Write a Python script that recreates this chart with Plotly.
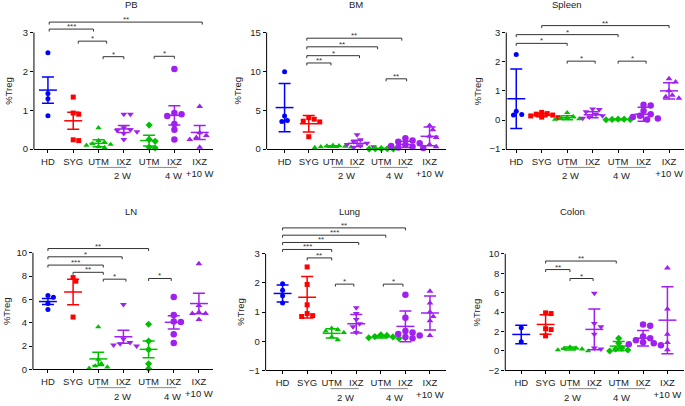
import plotly.graph_objects as go

W, H = 685, 406
FONT = "Liberation Sans, Arial, sans-serif"

categories = ["HD", "SYG", "UTM", "IXZ", "UTM", "IXZ", "IXZ<br>+10 W"]
colors = ["#0000ff", "#ff0000", "#00c000", "#a020f0", "#00c000", "#a020f0", "#a020f0"]
symbols = ["circle", "square", "triangle-up", "triangle-down", "diamond", "circle", "triangle-up"]
sizes = [5, 5, 5.5, 6, 5.5, 6.5, 6]

# --- PB
pb_values = [[2.48, 1.43, 1.30, 0.86],
             [1.34, 0.93, 0.90, 0.24, 0.22],
             [0.55, 0.22, 0.18, 0.14, 0.10, 0.06, 0.04, 0.12],
             [0.90, 0.90, 0.55, 0.50, 0.48, 0.45, 0.40, 0.25],
             [0.62, 0.25, 0.20, 0.05, 0.03],
             [2.06, 0.93, 0.90, 0.85, 0.65, 0.50, 0.25],
             [1.10, 0.42, 0.35, 0.30, 0.25, 0.05]]
pb_mean = [1.52, 0.73, 0.15, 0.52, 0.22, 0.87, 0.43]
pb_err = [0.34, 0.22, 0.09, 0.09, 0.14, 0.25, 0.18]
pb_sig = [(0.05, 6.1, 3.27, "**"), (0.05, 1.8, 3.09, "***"), (1.2, 2.32, 2.78, "*"),
          (2.18, 3.0, 2.38, "*"), (4.2, 5.0, 2.39, "*")]

# --- BM
bm_values = [[9.95, 4.25, 3.55, 3.70],
             [4.05, 3.85, 3.60, 3.50, 1.60],
             [0.50, 0.45, 0.40, 0.35, 0.30, 0.25, 0.20],
             [1.85, 1.20, 0.95, 0.75, 0.60, 0.45, 0.30, 0.20],
             [0.06, 0.05, 0.04, 0.05, 0.03],
             [1.40, 1.10, 0.95, 0.75, 0.55, 0.40, 0.30, 0.20, 0.15],
             [3.05, 2.50, 1.65, 1.50, 0.60, 0.30]]
bm_mean = [5.35, 3.27, 0.35, 0.75, 0.05, 0.60, 1.65]
bm_err = [3.1, 1.05, 0.10, 0.40, 0.02, 0.40, 1.20]
bm_sig = [(0.92, 4.85, 14.28, "**"), (0.92, 3.85, 13.17, "**"), (0.92, 3.1, 12.03, "*"),
          (0.92, 1.92, 11.09, "**"), (4.2, 5.05, 9.05, "**")]

# --- Spleen
sp_values = [[2.25, 0.30, 0.19, 0.17],
             [0.26, 0.22, 0.20, 0.17, 0.14, 0.10, 0.08],
             [0.25, 0.12, 0.08, 0.06, 0.04, 0.02],
             [0.38, 0.36, 0.28, 0.20, 0.15, 0.10, 0.06],
             [0.03, 0.02, 0.01, 0.02, 0.03],
             [0.52, 0.50, 0.32, 0.20, 0.15, 0.10, 0.05, 0.02],
             [1.42, 1.30, 1.00, 0.85, 0.80, 0.75]]
sp_mean = [0.73, 0.17, 0.08, 0.18, 0.02, 0.20, 1.00]
sp_err = [1.02, 0.06, 0.07, 0.10, 0.01, 0.24, 0.28]
sp_sig = [(1.0, 6.0, 3.24, "**"), (0.0, 4.0, 2.93, "*"), (0.0, 2.0, 2.63, "*"),
          (2.0, 3.1, 2.02, "*"), (4.0, 5.1, 2.02, "*")]

# --- LN
ln_values = [[6.20, 6.35, 5.65, 5.14],
             [7.88, 7.57, 4.49],
             [3.64, 0.85, 0.50, 0.30, 0.20, 0.10],
             [5.56, 2.60, 2.30, 2.10, 2.00, 2.20],
             [3.87, 2.43, 1.70, 0.48, 0.06],
             [6.21, 4.66, 4.07, 4.10, 3.02, 2.26],
             [9.07, 5.48, 4.90, 4.80, 4.80, 4.29]]
ln_mean = [5.82, 6.64, 0.90, 2.80, 1.72, 4.04, 5.65]
ln_err = [0.26, 1.10, 0.57, 0.55, 0.72, 0.57, 0.88]
ln_sig = [(0, 4, 10.37, "**"), (0, 2.95, 9.66, "*"), (0, 2.2, 8.95, "***"),
          (1, 2.2, 8.33, "**"), (2.2, 3.1, 7.74, "*"), (4, 4.9, 7.8, "*")]

# --- Lung
lu_values = [[1.97, 1.75, 1.56, 1.31],
             [2.55, 1.95, 1.25, 0.95, 0.88, 0.85],
             [0.45, 0.40, 0.35, 0.30, 0.15, 0.05],
             [1.15, 0.95, 0.75, 0.60, 0.50, 0.30],
             [0.22, 0.20, 0.16, 0.15, 0.12, 0.10],
             [1.60, 0.81, 0.35, 0.30, 0.25, 0.20, 0.15, 0.10],
             [1.72, 1.31, 1.00, 0.85, 0.70, 0.20]]
lu_mean = [1.64, 1.51, 0.27, 0.60, 0.15, 0.51, 0.97]
lu_err = [0.29, 0.71, 0.16, 0.32, 0.04, 0.53, 0.58]
lu_sig = [(0, 5, 3.89, "**"), (0, 4.2, 3.64, "***"), (0, 3.1, 3.39, "**"), (0, 2, 3.15, "***"),
          (1, 2, 2.86, "**"), (2.15, 2.9, 1.96, "*"), (4.1, 4.9, 1.96, "*")]

# --- Colon
co_values = [[2.40, 0.94],
             [3.92, 3.85, 2.29, 2.20, 1.55],
             [0.40, 0.30, 0.25, 0.20, 0.10, 0.00],
             [5.94, 2.83, 2.50, 1.72, 0.30, 0.20],
             [1.31, 0.80, 0.30, 0.20, 0.10, 0.00],
             [2.73, 2.60, 1.50, 1.30, 1.10, 0.90, 0.80, 0.70, 0.60],
             [8.55, 4.32, 1.72, 0.87, 0.13]]
co_mean = [1.70, 2.73, 0.25, 2.22, 0.50, 1.31, 3.17]
co_err = [0.95, 1.00, 0.15, 2.10, 0.48, 0.80, 3.45]
co_sig = [(1, 3.9, 9.26, "**"), (1, 2, 8.38, "**"), (2, 2.95, 7.46, "*")]

panels = [
    dict(name="PB", vals=pb_values, mean=pb_mean, err=pb_err, sig=pb_sig,
         xl=34, xr=213, c0=48, sp=25.33, yb=151, yt=33, ymin=0, ymax=3, dt=1, top=12,
         tx=123, ty=5, ytx=9),
    dict(name="BM", vals=bm_values, mean=bm_mean, err=bm_err, sig=bm_sig,
         xl=267, xr=447, c0=285, sp=24.2, yb=151, yt=33, ymin=0, ymax=15, dt=5, top=12,
         tx=357, ty=5, ytx=238),
    dict(name="Spleen", vals=sp_values, mean=sp_mean, err=sp_err, sig=sp_sig,
         xl=507, xr=685, c0=517, sp=25.5, yb=151, yt=33, ymin=-1, ymax=3, dt=1, top=12,
         tx=585, ty=5, ytx=479),
    dict(name="LN", vals=ln_values, mean=ln_mean, err=ln_err, sig=ln_sig,
         xl=33, xr=213, c0=48, sp=25.2, yb=374, yt=256, ymin=0, ymax=10, dt=2, top=222,
         tx=123, ty=214, ytx=6),
    dict(name="Lung", vals=lu_values, mean=lu_mean, err=lu_err, sig=lu_sig,
         xl=266, xr=447, c0=283, sp=24.6, yb=375, yt=257, ymin=-1, ymax=3, dt=1, top=222,
         tx=350, ty=214, ytx=240),
    dict(name="Colon", vals=co_values, mean=co_mean, err=co_err, sig=co_sig,
         xl=506, xr=685, c0=522, sp=24.4, yb=375, yt=257, ymin=-2, ymax=10, dt=2, top=222,
         tx=588, ty=214, ytx=477),
]


def swarm(vals, scale, sp, diam):
    # simple beeswarm: spread close points sideways (pixel space)
    order = sorted(range(len(vals)), key=lambda i: -vals[i])
    placed, offs = [], [0.0] * len(vals)
    step = diam * 0.55
    for i in order:
        py = vals[i] * scale
        k = 0
        while True:
            cands = [0.0] if k == 0 else [k * step, -k * step]
            hit = None
            for c in cands:
                if all((c - a) ** 2 + (py - b) ** 2 >= (diam * 0.9) ** 2 for a, b in placed):
                    hit = c
                    break
            if hit is not None:
                break
            k += 1
        placed.append((hit, py))
        offs[i] = hit / sp
    return offs


fig = go.Figure()
shapes, annots = [], []

for k, p in enumerate(panels, start=1):
    s = "" if k == 1 else str(k)
    scale = (p["yb"] - p["yt"]) / (p["ymax"] - p["ymin"])
    ytop = p["ymin"] + (p["yb"] - p["top"]) / scale
    fig.update_layout(**{
        "xaxis" + s: dict(domain=[p["xl"] / W, p["xr"] / W],
                          range=[(p["xl"] - p["c0"]) / p["sp"], (p["xr"] - p["c0"]) / p["sp"]],
                          tickvals=list(range(7)), ticktext=categories,
                          showline=True, linecolor="black", linewidth=1,
                          ticks="outside", ticklen=3, tickcolor="black",
                          showgrid=False, zeroline=False, anchor="y" + s,
                          tickfont=dict(size=9.5, color="#222", family=FONT)),
        "yaxis" + s: dict(domain=[1 - p["yb"] / H, 1 - p["top"] / H],
                          range=[p["ymin"], ytop],
                          tickvals=list(range(p["ymin"], p["ymax"] + 1, p["dt"])),
                          showline=False, ticks="outside", ticklen=3, tickcolor="black",
                          showgrid=False, zeroline=False, anchor="x" + s,
                          tickfont=dict(size=9.5, color="#222", family=FONT)),
    })
    # y axis line only over the tick range
    shapes.append(dict(type="line", xref="paper", yref="paper",
                       x0=p["xl"] / W, x1=p["xl"] / W,
                       y0=1 - p["yb"] / H, y1=1 - p["yt"] / H,
                       line=dict(color="black", width=1)))

    for g in range(7):
        vals = p["vals"][g]
        offs = swarm(vals, scale, p["sp"], sizes[g])
        fig.add_trace(go.Scatter(
            x=[g + o for o in offs], y=vals, mode="markers",
            xaxis="x" + s, yaxis="y" + s, showlegend=False, cliponaxis=False,
            marker=dict(symbol=symbols[g], size=sizes[g], color=colors[g], line=dict(width=0))))
        fig.add_trace(go.Scatter(
            x=[g], y=[p["mean"][g]], mode="markers",
            xaxis="x" + s, yaxis="y" + s, showlegend=False, cliponaxis=False,
            marker=dict(symbol="line-ew", size=12.8, color=colors[g],
                        line=dict(width=1.5, color=colors[g])),
            error_y=dict(type="data", array=[p["err"][g]], color=colors[g],
                         thickness=1.5, width=6)))

    # significance brackets
    cap = 2.5 / scale
    for x0, x1, yv, lab in p["sig"]:
        shapes.append(dict(type="path", xref="x" + s, yref="y" + s,
                           path=f"M {x0},{yv - cap} L {x0},{yv} L {x1},{yv} L {x1},{yv - cap}",
                           line=dict(color="#333", width=1)))
        annots.append(dict(x=(x0 + x1) / 2, y=yv, xref="x" + s, yref="y" + s, text=lab,
                           showarrow=False, yanchor="bottom", yshift=-4,
                           font=dict(size=8, color="#333", family=FONT)))

    # week groupings under the axis
    for g0, lab in [(2, "2 W"), (4, "4 W")]:
        xa = (p["c0"] + (g0 - 0.05) * p["sp"]) / W
        xb = (p["c0"] + (g0 + 1.1) * p["sp"]) / W
        shapes.append(dict(type="line", xref="paper", yref="paper", x0=xa, x1=xb,
                           y0=1 - (p["yb"] + 18.5) / H, y1=1 - (p["yb"] + 18.5) / H,
                           line=dict(color="#888", width=1)))
        annots.append(dict(x=(p["c0"] + (g0 + 0.55) * p["sp"]) / W, y=1 - (p["yb"] + 27) / H,
                           xref="paper", yref="paper", text=lab, showarrow=False,
                           yanchor="middle", font=dict(size=9.5, color="#222", family=FONT)))

    annots.append(dict(x=p["tx"] / W, y=1 - p["ty"] / H, xref="paper", yref="paper",
                       text=p["name"], showarrow=False, yanchor="middle",
                       font=dict(size=9.5, color="#222", family=FONT)))
    annots.append(dict(x=p["ytx"] / W, y=1 - (p["yb"] + p["yt"]) / 2 / H, xref="paper", yref="paper",
                       text="%Treg", textangle=-90, showarrow=False,
                       xanchor="center", yanchor="middle",
                       font=dict(size=9.5, color="#222", family=FONT)))

fig.update_layout(width=W, height=H, autosize=False,
                  margin=dict(l=0, r=0, t=0, b=0),
                  paper_bgcolor="white", plot_bgcolor="white",
                  shapes=shapes, annotations=annots,
                  font=dict(family=FONT, color="#222"))

# the page body has a default 8px margin; drop it so the figure fills the window
fig.write_html("out.html", config={"displayModeBar": False},
               post_script="document.body.style.margin='0px';")
